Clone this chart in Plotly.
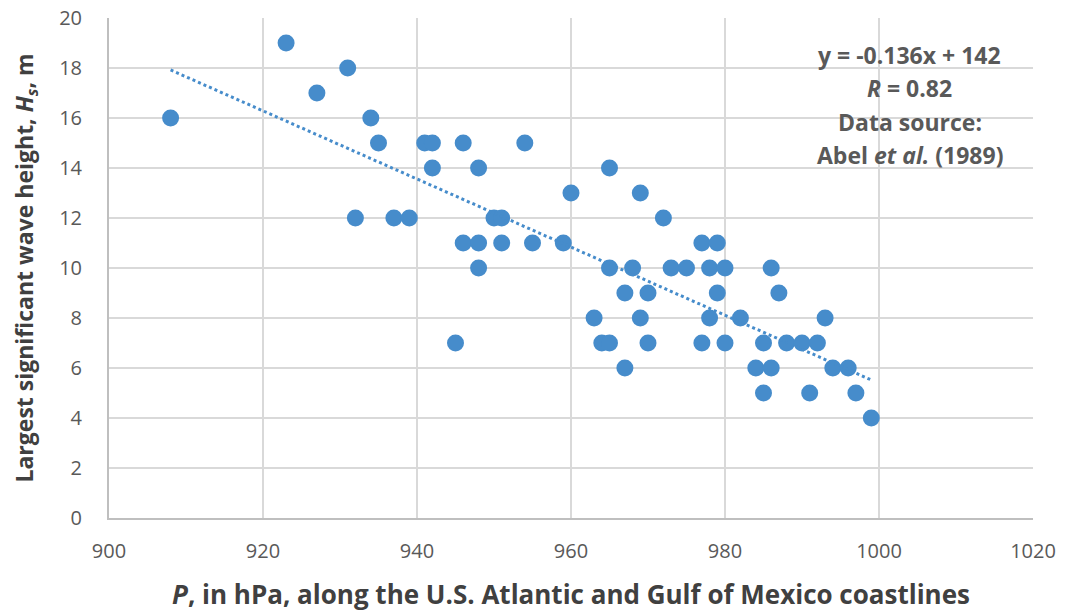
import numpy as np
import plotly.graph_objects as go

pressure = [908, 923, 927, 931, 932, 934, 935, 937, 939, 941, 942, 942, 945, 946, 946,
            948, 948, 948, 950, 951, 951, 954, 955, 959, 960, 963, 964, 965, 965, 965,
            967, 967, 968, 969, 969, 970, 970, 972, 973, 975, 977, 977, 978, 978, 979,
            979, 980, 980, 982, 984, 985, 985, 986, 986, 987, 988, 990, 991, 992, 993,
            994, 996, 997, 999]
wave_height = [16, 19, 17, 18, 12, 16, 15, 12, 12, 15, 15, 14, 7, 15, 11,
               14, 11, 10, 12, 12, 11, 15, 11, 11, 13, 8, 7, 7, 14, 10,
               9, 6, 10, 13, 8, 9, 7, 12, 10, 10, 11, 7, 10, 8, 11,
               9, 10, 7, 8, 6, 7, 5, 10, 6, 9, 7, 7, 5, 7, 8,
               6, 6, 5, 4]

x_ticks = [900, 920, 940, 960, 980, 1000, 1020]
y_ticks = [0, 2, 4, 6, 8, 10, 12, 14, 16, 18, 20]

annotation_lines = ["y = -0.136x + 142", "<i>R</i> = 0.82", "Data source:",
                    "Abel <i>et al.</i> (1989)"]

# least-squares trendline from the data
slope, intercept = np.polyfit(pressure, wave_height, 1)
tx = [min(pressure), max(pressure)]
ty = [slope * v + intercept for v in tx]

blue = "#468CCB"
font_family = "'Open Sans', Lato, sans-serif"

fig = go.Figure()
fig.add_trace(go.Scatter(x=pressure, y=wave_height, mode="markers",
                         marker=dict(size=17, color=blue, line=dict(width=0)),
                         showlegend=False))
fig.add_trace(go.Scatter(x=tx, y=ty, mode="lines",
                         line=dict(color=blue, width=3, dash="dot"),
                         showlegend=False))

for i, t in enumerate(annotation_lines):
    fig.add_annotation(x=1004, y=18.52 - i * 1.33, xref="x", yref="y", text="<b>" + t + "</b>",
                       showarrow=False, xanchor="center", yanchor="middle",
                       font=dict(size=23, color="#595959", family=font_family))

fig.update_layout(
    width=1071, height=613,
    margin=dict(l=101, r=46, t=10, b=103, autoexpand=False),
    paper_bgcolor="white", plot_bgcolor="white",
    font=dict(family=font_family, color="#595959"),
    xaxis=dict(range=[900, 1020], tickvals=x_ticks, ticktext=[str(v) for v in x_ticks],
               showgrid=True, gridcolor="#D9D9D9", gridwidth=2,
               showline=True, linecolor="#BFBFBF", linewidth=2, mirror=False,
               zeroline=False, ticks="", tickfont=dict(size=20, color="#595959"),
               ticklabelstandoff=14, automargin=False, ticklabeloverflow="allow",
               title=dict(text="<b><i>P</i>, in hPa, along the U.S. Atlantic and Gulf of Mexico coastlines</b>",
                          font=dict(size=26, color="#404040"), standoff=23)),
    yaxis=dict(range=[0, 20], tickvals=y_ticks, ticktext=[str(v) for v in y_ticks],
               showgrid=True, gridcolor="#D9D9D9", gridwidth=2,
               showline=True, linecolor="#BFBFBF", linewidth=2,
               zeroline=False, ticks="", tickfont=dict(size=20, color="#595959"),
               ticklabelstandoff=21, automargin=False, ticklabeloverflow="allow",
               title=dict(text="<b>Largest significant wave height, <i>H<sub>s</sub></i>, m</b>",
                          font=dict(size=23, color="#404040"), standoff=28)),
)

fig.write_html("out.html")
